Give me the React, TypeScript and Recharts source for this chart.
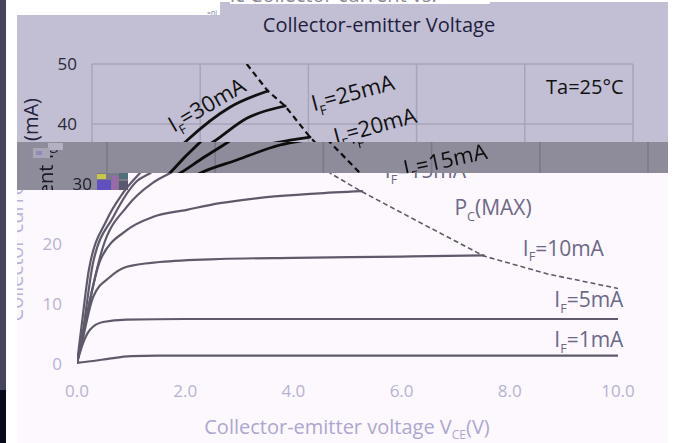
import React from 'react';
import { LineChart, Line, XAxis, YAxis, CartesianGrid, ReferenceDot, Customized } from 'recharts';

const FONT = '"Open Sans", sans-serif';

type Pt = { v: number; i: number };
const toPts = (rows: number[][]): Pt[] => rows.map(([v, i]) => ({ v, i }));

// axis ticks
const xTicks = [0, 2, 4, 6, 8, 10];
const yTicks = [0, 10, 20, 30, 40, 50];

// Ic vs Vce for each forward current: [Vce (V), Ic (mA)]
const if1mA = toPts([[0, 0.2], [0.3, 0.5], [0.6, 0.9], [1.0, 1.3], [1.5, 1.4], [3, 1.4], [5, 1.4], [7, 1.4], [10, 1.4]]);
const if5mA = toPts([[0, 0.2], [0.1, 3.2], [0.24, 5.7], [0.48, 7.0], [0.92, 7.4], [2, 7.5], [4, 7.5], [6, 7.5], [8, 7.5], [10, 7.5]]);
const if10mA = toPts([[0, 0.2], [0.06, 2.3], [0.3, 11.2], [0.61, 14.5], [0.92, 16.2], [1.53, 17], [2.64, 17.5], [4, 17.7], [6, 17.9], [7.52, 18.1]]);
const if15mA = toPts([[0, 0.2], [0.1, 4.5], [0.43, 17.3], [0.92, 22.3], [1.4, 24.5], [2.03, 25.7], [2.64, 26.8], [3.5, 27.8], [4.4, 28.4], [5.27, 28.8]]);
const if20mA = toPts([[0, 0.2], [0.1, 4.6], [0.48, 19.5], [0.92, 26.2], [1.4, 30.2], [1.72, 31.8], [2.4, 34], [3.2, 36.5], [3.66, 37.3], [4.03, 37.8]]);
const if25mA = toPts([[0, 0.2], [0.1, 5], [0.3, 17], [0.67, 24.5], [1.11, 30.5], [1.35, 31.8], [1.8, 34.5], [2.24, 37], [2.87, 41], [3.57, 43]]);
const if30mA = toPts([[0, 0.2], [0.08, 6], [0.22, 15.7], [0.55, 24], [0.85, 28.5], [1.16, 31.8], [1.76, 37.3], [2.55, 42.8], [3.25, 45.5]]);
// Pc(MAX) boundary
const pcMax = toPts([[2.86, 50], [3.25, 45.5], [3.57, 43], [4.03, 37.8], [4.68, 31.8], [5.27, 28.7], [6.4, 23.3], [7.52, 18], [8.7, 15], [9.94, 12.7], [10.15, 12.3]]);

const curves = [if1mA, if5mA, if10mA, if15mA, if20mA, if25mA, if30mA];

type TagProps = {
  viewBox?: any;
  head: string;
  sub?: string;
  tail?: string;
  fsize: number;
  ink: string;
  align?: 'start' | 'middle' | 'end';
  tilt?: number;
};

// text with a subscript, placed at a reference dot
const Tag = ({ viewBox, head, sub, tail = '', fsize, ink, align = 'middle', tilt = 0 }: TagProps) => {
  const cx = viewBox.x + viewBox.width / 2;
  const cy = viewBox.y + viewBox.height / 2;
  const drop = fsize * 0.28;
  return (
    <g transform={tilt ? `rotate(${tilt} ${cx} ${cy})` : undefined}>
      <text x={cx} y={cy + fsize * 0.35} textAnchor={align} fill={ink} fontSize={fsize} fontFamily={FONT}>
        <tspan>{head}</tspan>
        {sub ? <tspan dy={drop} fontSize={fsize * 0.6}>{sub}</tspan> : null}
        {sub ? <tspan dy={-drop}>{tail}</tspan> : <tspan>{tail}</tspan>}
      </text>
    </g>
  );
};

const IVChart = ({ photo }: { photo: boolean }) => {
  const ink = photo ? '#111111' : '#5f5a6b';
  const tickFill = photo ? '#2a2838' : '#b7b2d4';
  const labelFill = photo ? '#111111' : '#6c6888';
  const titleFill = photo ? '#23223a' : '#b9b4d8';

  const Titles = () => (
    <g fontFamily={FONT}>
      <text x={16} y={98} dy="0.35em" textAnchor="end" fontSize={20} fill={titleFill} transform="rotate(-90 16 98)">
        <tspan>Collector current I</tspan>
        <tspan dy={5} fontSize={12}>C</tspan>
        <tspan dy={-5}> (mA)</tspan>
      </text>
      {photo ? (
        <text x={364} y={25} dy="0.35em" textAnchor="middle" fontSize={20} fill="#1e1d40">
          Collector-emitter Voltage
        </text>
      ) : (
        <text x={347} y={427} dy="0.35em" textAnchor="middle" fontSize={20} fill="#aca7d0">
          <tspan>Collector-emitter voltage V</tspan>
          <tspan dy={5} fontSize={12}>CE</tspan>
          <tspan dy={-5}>(V)</tspan>
        </text>
      )}
    </g>
  );

  const dot = { r: 1, fill: 'none', stroke: 'none', ifOverflow: 'visible' as const };

  return (
    <LineChart width={675} height={443} margin={{ top: 64, right: 57, bottom: 49, left: 0 }}>
      {photo && <CartesianGrid stroke="#a6a4b8" strokeWidth={1.5} />}
      <XAxis
        type="number"
        dataKey="v"
        domain={[0, 10]}
        ticks={xTicks}
        allowDataOverflow
        axisLine={false}
        tickLine={false}
        tickSize={0}
        tickMargin={21}
        height={30}
        tickFormatter={(t: number) => t.toFixed(1)}
        tick={{ fill: tickFill, fontSize: 17, fontFamily: FONT }}
      />
      <YAxis
        type="number"
        dataKey="i"
        domain={[0, 50]}
        ticks={yTicks}
        allowDataOverflow
        width={77}
        axisLine={false}
        tickLine={false}
        tickSize={0}
        tickMargin={15}
        tick={{ fill: tickFill, fontSize: 17, fontFamily: FONT }}
      />
      {curves.map((c, k) => (
        <Line
          key={k}
          data={c}
          dataKey="i"
          type="monotone"
          stroke={ink}
          strokeWidth={photo ? 2.8 : 2.2}
          strokeLinecap="round"
          dot={false}
          isAnimationActive={false}
        />
      ))}
      <Line
        data={pcMax}
        dataKey="i"
        type="linear"
        stroke={ink}
        strokeWidth={photo ? 2.2 : 1.6}
        strokeDasharray={photo ? '6 4' : '5 3'}
        dot={false}
        isAnimationActive={false}
      />
      {photo ? (
        <>
          <ReferenceDot x={2.12} y={43.2} {...dot}
            label={<Tag head="I" sub="F" tail="=30mA" fsize={22} ink={labelFill} tilt={-30} />} />
          <ReferenceDot x={4.82} y={45.2} {...dot}
            label={<Tag head="I" sub="F" tail="=25mA" fsize={22} ink={labelFill} tilt={-15} />} />
          <ReferenceDot x={5.23} y={39.7} {...dot}
            label={<Tag head="I" sub="F" tail="=20mA" fsize={22} ink={labelFill} tilt={-15} />} />
          <ReferenceDot x={6.25} y={34} {...dot}
            label={<Tag head="I" sub="F" tail="=15mA" fsize={22} ink={labelFill} tilt={-12} />} />
          <ReferenceDot x={9.11} y={46.2} {...dot}
            label={<Tag head="Ta=25°C" fsize={20} ink={labelFill} />} />
        </>
      ) : (
        <>
          <ReferenceDot x={7.69} y={26} {...dot}
            label={<Tag head="P" sub="C" tail="(MAX)" fsize={21} ink={labelFill} />} />
          <ReferenceDot x={8.24} y={19.3} {...dot}
            label={<Tag head="I" sub="F" tail="=10mA" fsize={21} ink={labelFill} align="start" />} />
          <ReferenceDot x={10.1} y={10.7} {...dot}
            label={<Tag head="I" sub="F" tail="=5mA" fsize={21} ink={labelFill} align="end" />} />
          <ReferenceDot x={10.1} y={4} {...dot}
            label={<Tag head="I" sub="F" tail="=1mA" fsize={21} ink={labelFill} align="end" />} />
          <ReferenceDot x={5.69} y={32.2} {...dot}
            label={<Tag head="I" sub="F" tail="=15mA" fsize={21} ink={labelFill} align="start" />} />
        </>
      )}
      <Customized component={Titles} />
    </LineChart>
  );
};

// a clipped piece of the page showing the chart shifted by `shift` px
const Pane = ({ x, y, w, h, shift, photo, bg, extra }: {
  x: number; y: number; w: number; h: number; shift: number; photo: boolean; bg: string; extra?: React.CSSProperties;
}) => (
  <div style={{ position: 'absolute', left: x, top: y, width: w, height: h, overflow: 'hidden', background: bg, ...extra }}>
    <div style={{ position: 'absolute', left: shift - x, top: -y }}>
      <IVChart photo={photo} />
    </div>
  </div>
);

const Block = ({ x, y, w, h, c }: { x: number; y: number; w: number; h: number; c: string }) => (
  <div style={{ position: 'absolute', left: x, top: y, width: w, height: h, background: c }} />
);

export default function App() {
  const lavender = '#c2bfd4';
  return (
    <div style={{ position: 'absolute', left: 0, top: 0, width: 675, height: 443, background: '#ffffff', overflow: 'hidden' }}>
      {/* lower, clean chart */}
      <Pane x={17} y={173} w={651} h={270} shift={0} photo={false} bg="#fdf8fd" />
      {/* upper, photographed chart */}
      <Pane x={17} y={0} w={651} h={142} shift={15} photo={true} bg={lavender} />
      {/* darker band in between */}
      <Pane
        x={17}
        y={142}
        w={651}
        h={48}
        shift={30}
        photo={true}
        bg={lavender}
        extra={{
          filter: 'brightness(0.73)',
          clipPath: 'polygon(0 0, 651px 0, 651px 31px, 80px 31px, 80px 48px, 0 48px)',
        }}
      />
      {/* white strip on top with a cut-off heading */}
      <Block x={17} y={0} w={203} h={15} c="#ffffff" />
      <Block x={205} y={0} w={470} h={2} c="#ffffff" />
      <div style={{ position: 'absolute', left: 230, top: 0, width: 260, height: 4, overflow: 'hidden', background: '#ffffff' }}>
        <div style={{ position: 'absolute', left: 0, top: -19, fontFamily: FONT, fontSize: 20, color: '#8a8a96', whiteSpace: 'nowrap' }}>
          ic Collector current vs.
        </div>
      </div>
      <div style={{ position: 'absolute', left: 207, top: 8, fontFamily: FONT, fontSize: 7, color: '#7a7ab0' }}>=ni</div>
      {/* left edge */}
      <Block x={0} y={0} w={6} h={390} c="#45445a" />
      <Block x={0} y={390} w={6} h={53} c="#060a1b" />
      {/* small glitch blocks */}
      <Block x={48} y={143} w={15} h={7} c="#b4b2c2" />
      <Block x={33} y={148} w={17} h={10} c="#a7a5b6" />
      <Block x={36} y={151} w={6} h={4} c="#8c8ab8" />
      <Block x={97} y={173} w={31} h={17} c="#7c7a88" />
      <Block x={97} y={174} w={9} h={5} c="#c8c848" />
      <Block x={97} y={180} w={14} h={10} c="#6250c2" />
      <Block x={112} y={176} w={6} h={14} c="#9a6aa8" />
      <Block x={119} y={173} w={9} h={6} c="#50707a" />
      <Block x={119} y={181} w={9} h={9} c="#5a5870" />
    </div>
  );
}
